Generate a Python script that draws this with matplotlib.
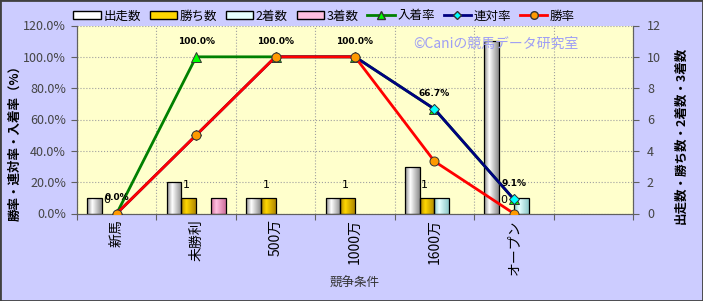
import numpy as np
import matplotlib
matplotlib.use("Agg")
import matplotlib.pyplot as plt
from matplotlib.colors import LinearSegmentedColormap
from matplotlib.patches import Patch, Rectangle
from matplotlib.lines import Line2D

plt.rcParams['font.family'] = ['Noto Sans CJK JP', 'DejaVu Sans']

# data
categories = ["新馬", "未勝利", "500万", "1000万", "1600万", "オープン", ""]
starts = [1, 2, 1, 1, 3, 11]        # 出走数
wins = [0, 1, 1, 1, 1, 0]           # 勝ち数
seconds = [0, 0, 0, 0, 1, 1]        # 2着数
thirds = [0, 1, 0, 0, 0, 0]         # 3着数
place_rate = [0, 100, 100, 100, 66.7, 9.1]   # 入着率
quinella_rate = [0, 50, 100, 100, 66.7, 9.1]  # 連対率
win_rate = [0, 50, 100, 100, 33.3, 0]        # 勝率

BG = "#CCCCFF"
PLOT_BG = "#FFFFCC"


# cylinder-like shading for the bars
def shade(ax, bars, light, dark):
    cmap = LinearSegmentedColormap.from_list("", [dark, light, dark])
    t = np.linspace(0, 1, 40)
    grad = np.where(t < 0.35, t / 0.35 * 0.5, 0.5 + (t - 0.35) / 0.65 * 0.5)
    for b in bars:
        h = b.get_height()
        if h <= 0:
            b.set_linewidth(0)
            continue
        x0 = b.get_x()
        im = ax.imshow(grad[None, :], extent=(x0, x0 + b.get_width(), 0, h),
                       cmap=cmap, vmin=0, vmax=1, aspect="auto", zorder=2)
        im.set_clip_path(b)


fig = plt.figure(figsize=(7.03, 3.01), dpi=100, facecolor=BG)
ax = fig.add_axes([77 / 703, 1 - 213.5 / 301, 556 / 703, 188 / 301])
ax.set_facecolor(PLOT_BG)
ax2 = ax.twinx()

n = len(starts)
x = np.arange(n)
w = 0.185
series = [(starts, "#FFFFFF", "#8C8C8C", "出走数"),
          (wins, "#FFD700", "#B08800", "勝ち数"),
          (seconds, "#E6FFFF", "#8CC8C8", "2着数"),
          (thirds, "#FFC0E0", "#D0709C", "3着数")]
handles = []
for i, (vals, light, dark, name) in enumerate(series):
    bars = ax.bar(x + (i - 1.5) * w, vals, w, facecolor="none",
                  edgecolor="black", linewidth=0.9, zorder=3)
    shade(ax, bars, light, dark)
    handles.append(Patch(facecolor=light, edgecolor="black", label=name))
    if name == "勝ち数":
        for xi, v in zip(x + (i - 1.5) * w, vals):
            ax.text(xi - 0.03, v + 0.85, str(v), ha="center", va="center",
                    fontsize=8, family="DejaVu Sans", zorder=4)

ax.set_xlim(-0.5, len(categories) - 0.5)
ax.set_ylim(0, 12)
ax.set_yticks(range(0, 13, 2))
ax.yaxis.tick_right()
ax.set_xticks(np.arange(len(categories) + 1) - 0.5, minor=False)
ax.set_xticklabels([])
ax.set_xticks(np.arange(len(categories)), minor=True)
ax.set_xticklabels(categories, minor=True, rotation=90, fontsize=10)
ax.tick_params(axis="x", which="minor", length=0, pad=4)
ax.tick_params(axis="x", which="major", length=4, color="#606060")
ax.tick_params(axis="y", labelsize=9, length=4, color="#606060", pad=6,
               labelcolor="#444444")
ax.grid(True, which="major", color="#A0A0A0", linestyle=":", linewidth=0.8)
ax.set_axisbelow(True)

# lines
lines = [(place_rate, "#008000", "^", "#00FF00", "入着率"),
         (quinella_rate, "#000080", "D", "#00FFFF", "連対率"),
         (win_rate, "#FF0000", "o", "#FF9900", "勝率")]
for vals, col, mk, mfc, name in lines:
    ms = 5 if mk == "D" else 6.5
    ax2.plot(x, vals, color=col, linewidth=2, marker=mk, markersize=ms,
             markerfacecolor=mfc, markeredgecolor="#333333", markeredgewidth=0.7,
             zorder=5)
    handles.append(Line2D([], [], color=col, linewidth=2, marker=mk,
                          markersize=ms - 1, markerfacecolor=mfc,
                          markeredgecolor="#333333", label=name))
for xi, v in zip(x, place_rate):
    ax2.text(xi, v + 10, f"{v:.1f}%", ha="center", va="center", fontsize=6.5,
             fontweight="bold", family="DejaVu Sans", zorder=6)

ax2.set_ylim(0, 120)
ax2.set_yticks(range(0, 121, 20))
ax2.set_yticklabels([f"{v:.1f}%" for v in range(0, 121, 20)])
ax2.yaxis.tick_left()
ax2.tick_params(axis="y", labelsize=9, length=4, color="#606060", pad=4,
                labelcolor="#444444")

for a in (ax, ax2):
    a.spines["top"].set_visible(False)
    for s in ("left", "right", "bottom"):
        a.spines[s].set_color("#606060")

fig.text(15 / 703, 1 - 140 / 301, "勝率・連対率・入着率（%）", rotation=90,
         ha="center", va="center", fontsize=9, fontweight="bold")
fig.text(681 / 703, 1 - 135 / 301, "出走数・勝ち数・2着数・3着数", rotation=90,
         ha="center", va="center", fontsize=9, fontweight="bold")
fig.text(355 / 703, 1 - 283 / 301, "競争条件", ha="center", va="center",
         fontsize=9, color="#333333")
fig.text(496 / 703, 1 - 44 / 301, "©Caniの競馬データ研究室", ha="center",
         va="center", fontsize=10, color="#9E9EF5")

fig.legend(handles=handles, loc="center", ncol=7, frameon=False, fontsize=9,
           bbox_to_anchor=(324 / 703, 1 - 16 / 301), handlelength=2.2,
           handleheight=0.6, handletextpad=0.2, columnspacing=0.7)

fig.patches.append(Rectangle((0, 0), 1, 1, transform=fig.transFigure,
                             fill=False, edgecolor="#404040", linewidth=2))

fig.savefig("out.png", dpi=100, facecolor=BG)
